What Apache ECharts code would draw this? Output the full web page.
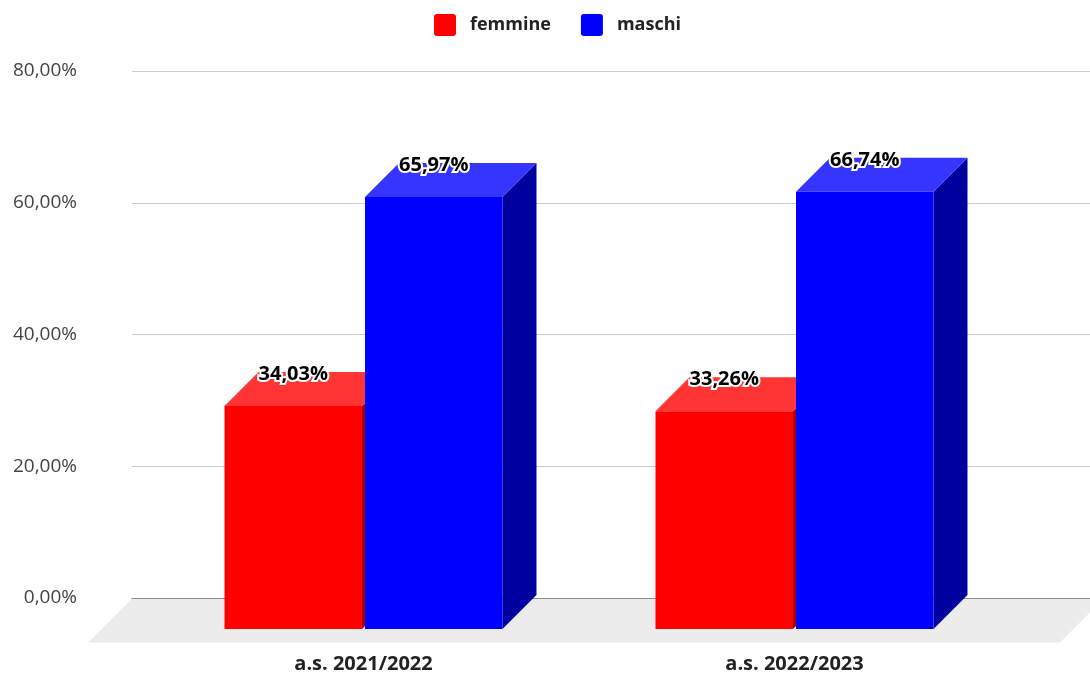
<!DOCTYPE html>
<html>
<head>
<meta charset="utf-8">
<script src="https://cdn.jsdelivr.net/npm/echarts@6/dist/echarts.min.js"></script>
<style>
  html, body { margin: 0; padding: 0; background: #fff; }
  #chart { width: 1090px; height: 674px; }
</style>
</head>
<body>
<div id="chart"></div>
<script>
// School years and the share of girls / boys enrolled
const categories = ['a.s. 2021/2022', 'a.s. 2022/2023'];
const femmine = [34.03, 33.26];
const maschi = [65.97, 66.74];
const yMin = 0, yMax = 80, yStep = 20;

const FONT = '"Open Sans", "Noto Sans", sans-serif';
const DEPTH = 34;       // depth of the bar boxes, px
const FLOOR_DEPTH = 44; // depth of the grey floor, px

const fmt = v => v.toFixed(2).replace('.', ',') + '%';

// Colours for the three visible faces of each box
const palette = {
  femmine: { front: '#FF0000', top: '#FF3535', side: '#A80000' },
  maschi:  { front: '#0000FF', top: '#3535FF', side: '#00009E' }
};

// Small rounded square used as legend marker
const LEGEND_ICON = 'path://M3,0 H19 A3,3 0 0 1 22,3 V19 A3,3 0 0 1 19,22 H3 A3,3 0 0 1 0,19 V3 A3,3 0 0 1 3,0 Z';

// Draws one 3D box: side = -1 sits left of the category centre, +1 right of it
function boxRenderer(side, col) {
  return function (params, api) {
    const cat = api.value(0), v = api.value(1);
    const top = api.coord([cat, v]);
    const base = api.coord([cat, 0]);
    const band = api.size([1, 0])[0];
    const w = band * 0.319;
    const half = 1.5;
    const cx = top[0];
    let x0, x1;
    if (side < 0) { x1 = cx - half; x0 = x1 - w; } else { x0 = cx + half; x1 = x0 + w; }
    const yb = top[1], y0 = base[1];
    const d = DEPTH;
    return {
      type: 'group',
      children: [
        { type: 'polygon', shape: { points: [[x1, yb + d], [x1 + d, yb], [x1 + d, y0], [x1, y0 + d]] },
          style: { fill: col.side } },
        { type: 'polygon', shape: { points: [[x0, yb + d], [x0 + d, yb], [x1 + d, yb], [x1, yb + d]] },
          style: { fill: col.top } },
        { type: 'rect', shape: { x: x0, y: yb + d, width: w, height: y0 - yb },
          style: { fill: col.front } },
        { type: 'text', z2: 10,
          style: { text: fmt(v), x: (x0 + x1) / 2, y: yb + 2, align: 'center', verticalAlign: 'middle',
                   fontFamily: FONT, fontWeight: 'bold', fontSize: 20, fill: '#000',
                   stroke: '#fff', lineWidth: 4 } }
      ]
    };
  };
}

// Grey floor under the bars, at value 0
function floorRenderer(params, api) {
  const cs = params.coordSys;
  const y0 = api.coord([0, 0])[1] + 0.5;
  const fd = FLOOR_DEPTH;
  return {
    type: 'polygon',
    shape: { points: [[cs.x, y0], [cs.x + cs.width + 14, y0], [cs.x + cs.width + 14 - fd, y0 + fd], [cs.x - fd, y0 + fd]] },
    style: { fill: '#ECECEC' }
  };
}

const chart = echarts.init(document.getElementById('chart'), null, { renderer: 'canvas' });

chart.setOption({
  animation: false,
  legend: {
    data: ['femmine', 'maschi'],
    top: 9, left: 429,
    icon: LEGEND_ICON,
    itemWidth: 22, itemHeight: 22, itemGap: 30,
    textStyle: { fontFamily: FONT, fontWeight: 'bold', fontSize: 18, color: '#222', padding: [0, 0, 0, 9] }
  },
  grid: [
    // back wall: gridlines, value labels and the zero line
    { left: 132, right: 0, top: 71, bottom: 76 },
    // bar positions and category labels
    { left: 148, width: 862, top: 71, bottom: 76 }
  ],
  xAxis: [
    { type: 'category', gridIndex: 0, data: categories,
      axisLabel: { show: false }, axisTick: { show: false },
      axisLine: { show: true, lineStyle: { color: '#333', width: 1 } } },
    { type: 'category', gridIndex: 1, data: categories,
      axisLine: { show: false }, axisTick: { show: false },
      axisLabel: { fontFamily: FONT, fontWeight: 'bold', fontSize: 20, color: '#222', margin: 59, lineHeight: 20 } }
  ],
  yAxis: [
    { type: 'value', gridIndex: 0, min: yMin, max: yMax, interval: yStep,
      axisLine: { show: false }, axisTick: { show: false },
      splitLine: { lineStyle: { color: '#CCCCCC', width: 1 } },
      axisLabel: { formatter: fmt, fontFamily: FONT, fontSize: 19, color: '#444', margin: 55, padding: [4, 0, 0, 0] } },
    { type: 'value', gridIndex: 1, min: yMin, max: yMax, interval: yStep, show: false }
  ],
  series: [
    { type: 'custom', xAxisIndex: 0, yAxisIndex: 0, data: [[0, 0]], renderItem: floorRenderer, silent: true },
    { name: 'femmine', type: 'custom', xAxisIndex: 1, yAxisIndex: 1,
      itemStyle: { color: palette.femmine.front },
      data: femmine.map((v, i) => [i, v]), renderItem: boxRenderer(-1, palette.femmine) },
    { name: 'maschi', type: 'custom', xAxisIndex: 1, yAxisIndex: 1,
      itemStyle: { color: palette.maschi.front },
      data: maschi.map((v, i) => [i, v]), renderItem: boxRenderer(1, palette.maschi) }
  ]
});
</script>
</body>
</html>
